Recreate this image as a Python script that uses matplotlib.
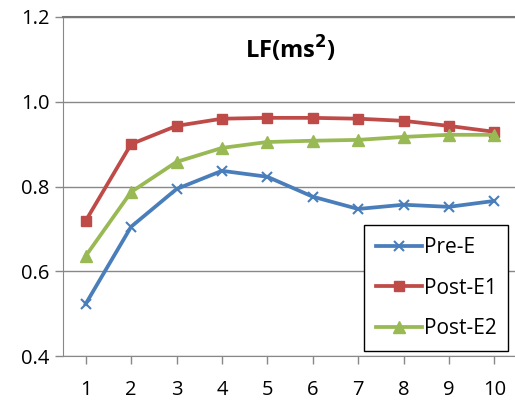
import matplotlib.pyplot as plt

sessions = [1, 2, 3, 4, 5, 6, 7, 8, 9, 10]
pre_e = [0.523, 0.705, 0.794, 0.837, 0.823, 0.776, 0.747, 0.757, 0.752, 0.766]
post_e1 = [0.719, 0.900, 0.943, 0.960, 0.962, 0.962, 0.960, 0.955, 0.943, 0.929]
post_e2 = [0.636, 0.787, 0.858, 0.891, 0.905, 0.908, 0.910, 0.917, 0.922, 0.922]
y_ticks = [0.4, 0.6, 0.8, 1.0, 1.2]

plt.rcParams["font.family"] = ["Open Sans", "DejaVu Sans"]

fig = plt.figure(figsize=(5.15, 4.07), dpi=100)
ax = fig.add_axes([63 / 515, 51 / 407, 454 / 515, 339 / 407])

ax.plot(sessions, pre_e, color="#4A7EBB", lw=2.7, marker="x", ms=7, mew=1.5, label="Pre-E")
ax.plot(sessions, post_e1, color="#BE4B48", lw=2.7, marker="s", ms=7, label="Post-E1")
ax.plot(sessions, post_e2, color="#98B954", lw=2.7, marker="^", ms=9, label="Post-E2")

ax.set_xlim(0.5, 10.5)
ax.set_ylim(0.4, 1.2)
ax.set_xticks(sessions)
ax.set_yticks(y_ticks)
ax.set_yticklabels([f"{v:.1f}" for v in y_ticks])
ax.tick_params(labelsize=14.5, color="#888888", length=6, width=1)
ax.tick_params(axis="x", pad=11)
ax.grid(axis="y", color="#888888", lw=1)
ax.set_axisbelow(True)
ax.spines["right"].set_visible(False)
ax.spines["top"].set_color("#777777")
ax.spines["top"].set_linewidth(1.5)
for side in ["left", "bottom"]:
    ax.spines[side].set_color("#888888")

ax.text(0.5, 0.905, "LF(ms$^\\mathbf{2}$)", transform=ax.transAxes, ha="center",
        va="center", fontsize=17, fontweight="bold")

leg = ax.legend(loc="lower right", bbox_to_anchor=(0.98, 0.015), fontsize=15,
                frameon=True, fancybox=False, edgecolor="black", framealpha=1,
                handlelength=2.2, handletextpad=0.1, labelspacing=0.95,
                borderpad=0.55, borderaxespad=0)
leg.get_frame().set_linewidth(1)

plt.savefig("out.png", dpi=100)
